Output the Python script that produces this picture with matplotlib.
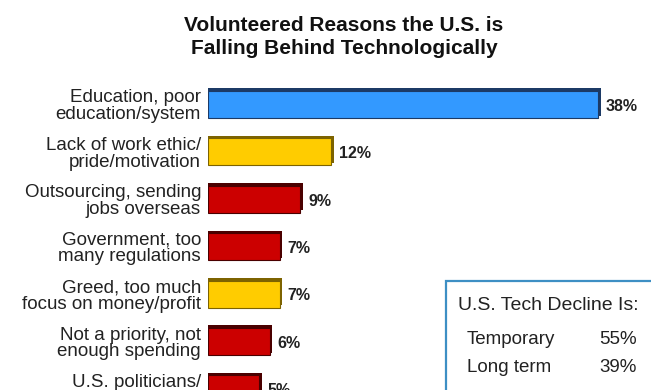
import matplotlib
matplotlib.use('Agg')
import matplotlib.pyplot as plt
from matplotlib.patches import Rectangle

plt.rcParams['font.family'] = ['Liberation Sans', 'DejaVu Sans']

# データ
reasons = [
    'Education, poor\neducation/system',
    'Lack of work ethic/\npride/motivation',
    'Outsourcing, sending\njobs overseas',
    'Government, too\nmany regulations',
    'Greed, too much\nfocus on money/profit',
    'Not a priority, not\nenough spending',
    'U.S. politicians/\nleadership',
]
percents = [38, 12, 9, 7, 7, 6, 5]
bar_groups = ['blue', 'yellow', 'red', 'red', 'yellow', 'red', 'red']

decline_labels = ['Temporary', 'Long term']
decline_values = [55, 39]

# 色
face_colors = {'blue': '#3399ff', 'yellow': '#ffcc00', 'red': '#cc0000'}
dark_colors = {'blue': '#1c3a66', 'yellow': '#7d6300', 'red': '#4a0000'}

W, H = 651, 390
fig = plt.figure(figsize=(W / 100, H / 100), dpi=100)
fig.patch.set_facecolor('white')

# 棒グラフ用の軸 (棒の左端から右端まで)
bar_left = 208
ax = fig.add_axes([bar_left / W, 0, (W - bar_left) / W, 1])
px_per_pct = 390 / 38
ax.set_xlim(0, (W - bar_left) / px_per_pct)
first_center, step = 104.5, 47.4
ax.set_ylim((H - first_center) / step, -first_center / step)

ypos = list(range(len(percents)))
shift = 2.5 / step  # 3D風の奥行き

# 奥側の暗い面
ax.barh([y - shift for y in ypos], [p + 0.25 for p in percents], height=0.57,
        color=[dark_colors[g] for g in bar_groups], zorder=1)
# 手前の面
ax.barh(ypos, percents, height=0.57,
        color=[face_colors[g] for g in bar_groups],
        edgecolor=[dark_colors[g] for g in bar_groups], linewidth=0.8, zorder=2)

for y, p in zip(ypos, percents):
    ax.text(p + 0.75, y + 0.04, f'{p}%', ha='left', va='center',
            fontsize=11.5, fontweight='bold', color='#222222')

ax.set_yticks(ypos)
ax.set_yticklabels(reasons, fontsize=13.5, color='#222222', linespacing=0.97)
ax.tick_params(axis='y', length=0, pad=5)
ax.set_xticks([])
for s in ax.spines.values():
    s.set_visible(False)
ax.patch.set_visible(False)

fig.text(344 / W, 1 - 37 / H, 'Volunteered Reasons the U.S. is\nFalling Behind Technologically',
         ha='center', va='center', fontsize=15, fontweight='bold', color='#111111',
         linespacing=1.3)

# 右下の囲み
box = Rectangle((446 / W, -0.1), 0.5, 1 - 281 / H + 0.1, transform=fig.transFigure,
                facecolor='white', edgecolor='#3d8fc4', linewidth=1.6, clip_on=False)
fig.patches.append(box)
fig.text(458 / W, 1 - 305 / H, 'U.S. Tech Decline Is:', ha='left', va='center',
         fontsize=14, color='#222222')
for i, (lab, val) in enumerate(zip(decline_labels, decline_values)):
    yy = 1 - (340 + 28 * i) / H
    fig.text(467 / W, yy, lab, ha='left', va='center', fontsize=13.5, color='#222222')
    fig.text(637 / W, yy, f'{val}%', ha='right', va='center', fontsize=13.5, color='#222222')

fig.savefig('out.png', dpi=100)
